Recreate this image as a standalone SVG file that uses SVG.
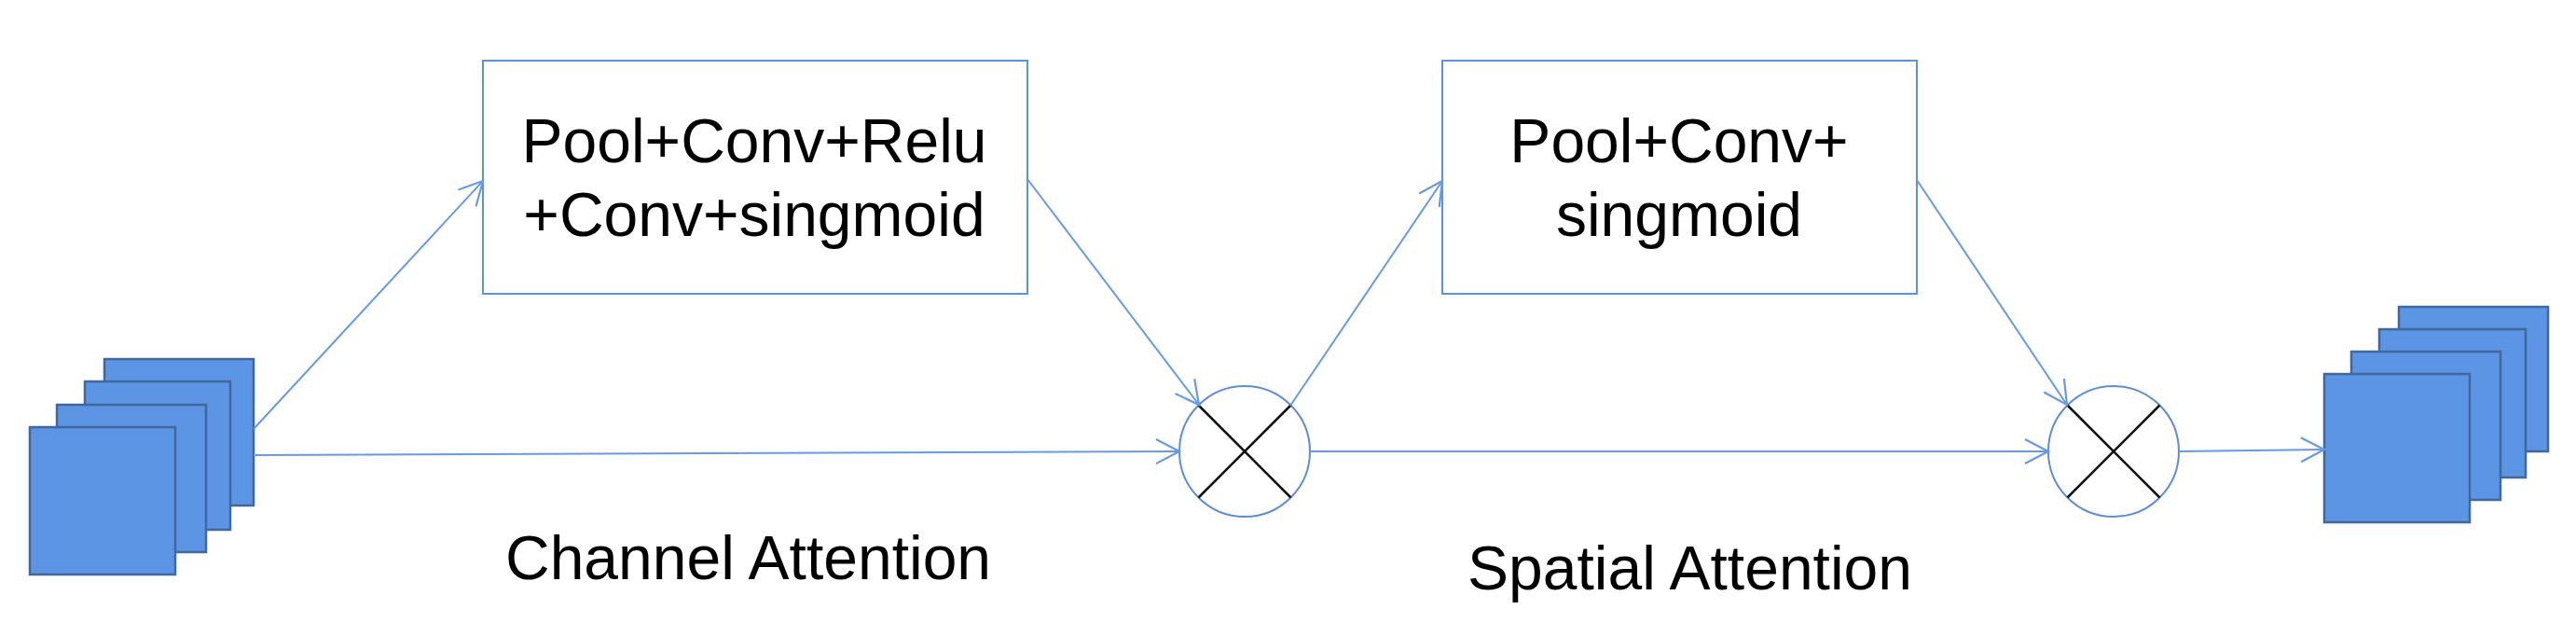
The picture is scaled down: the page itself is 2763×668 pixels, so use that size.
<svg xmlns="http://www.w3.org/2000/svg" width="2763" height="668" viewBox="0 0 2763 668">
  <style>
    .sq { fill: #5B95E3; stroke: #41679F; stroke-width: 2.5; }
    .box { fill: #FFFFFF; stroke: #5B93E3; stroke-width: 2; }
    .op { fill: none; stroke: #5B8ED8; stroke-width: 2; }
    .x { stroke: #111111; stroke-width: 2.5; }
    .conn { fill: none; stroke: #6699E6; stroke-width: 2; marker-end: url(#arr); }
    .t { font-family: "Liberation Sans", Arial, sans-serif; font-size: 66px; fill: #000000; }
    .c { text-anchor: middle; }
  </style>
  <defs>
    <marker id="arr" markerUnits="userSpaceOnUse" markerWidth="30" markerHeight="30" viewBox="0 0 30 30" refX="27" refY="15" orient="auto">
      <path d="M2,2 L27,15 L2,28" fill="none" stroke="#6699E6" stroke-width="2.2"/>
    </marker>
  </defs>
  <rect width="2763" height="668" fill="#FFFFFF"/>

  <g id="input-stack">
    <rect class="sq" x="112" y="385" width="160" height="157"/>
    <rect class="sq" x="91" y="409" width="156" height="159"/>
    <rect class="sq" x="61" y="434" width="160" height="158"/>
    <rect class="sq" x="32" y="458" width="156" height="158"/>
  </g>

  <g id="channel-box">
    <rect class="box" x="518" y="65" width="584" height="250"/>
    <text class="t c" x="809" y="174">Pool+Conv+Relu</text>
    <text class="t c" x="809" y="253">+Conv+singmoid</text>
  </g>

  <g id="multiply-1">
    <circle class="op" cx="1335" cy="484" r="70"/>
    <line class="x" x1="1285.5" y1="434.5" x2="1384.5" y2="533.5"/>
    <line class="x" x1="1285.5" y1="533.5" x2="1384.5" y2="434.5"/>
  </g>

  <g id="spatial-box">
    <rect class="box" x="1547" y="65" width="509" height="250"/>
    <text class="t c" x="1801" y="174">Pool+Conv+</text>
    <text class="t c" x="1801" y="253">singmoid</text>
  </g>

  <g id="multiply-2">
    <circle class="op" cx="2267" cy="484" r="70"/>
    <line class="x" x1="2217.5" y1="434.5" x2="2316.5" y2="533.5"/>
    <line class="x" x1="2217.5" y1="533.5" x2="2316.5" y2="434.5"/>
  </g>

  <g id="output-stack">
    <rect class="sq" x="2573" y="329" width="160" height="155"/>
    <rect class="sq" x="2552" y="353" width="157" height="159"/>
    <rect class="sq" x="2522" y="377" width="160" height="159"/>
    <rect class="sq" x="2493" y="401" width="156" height="159"/>
  </g>

  <g id="labels">
    <text class="t" x="542" y="621">Channel Attention</text>
    <text class="t" x="1574" y="632">Spatial Attention</text>
  </g>

  <g id="connectors">
    <line class="conn" x1="272" y1="460" x2="518" y2="194"/>
    <line class="conn" x1="272" y1="488" x2="1265" y2="484"/>
    <line class="conn" x1="1102" y1="192" x2="1286" y2="434"/>
    <line class="conn" x1="1384" y1="435" x2="1547" y2="194"/>
    <line class="conn" x1="1405" y1="484" x2="2197" y2="484"/>
    <line class="conn" x1="2056" y1="193" x2="2217" y2="434"/>
    <line class="conn" x1="2337" y1="484" x2="2493" y2="482"/>
  </g>
</svg>
